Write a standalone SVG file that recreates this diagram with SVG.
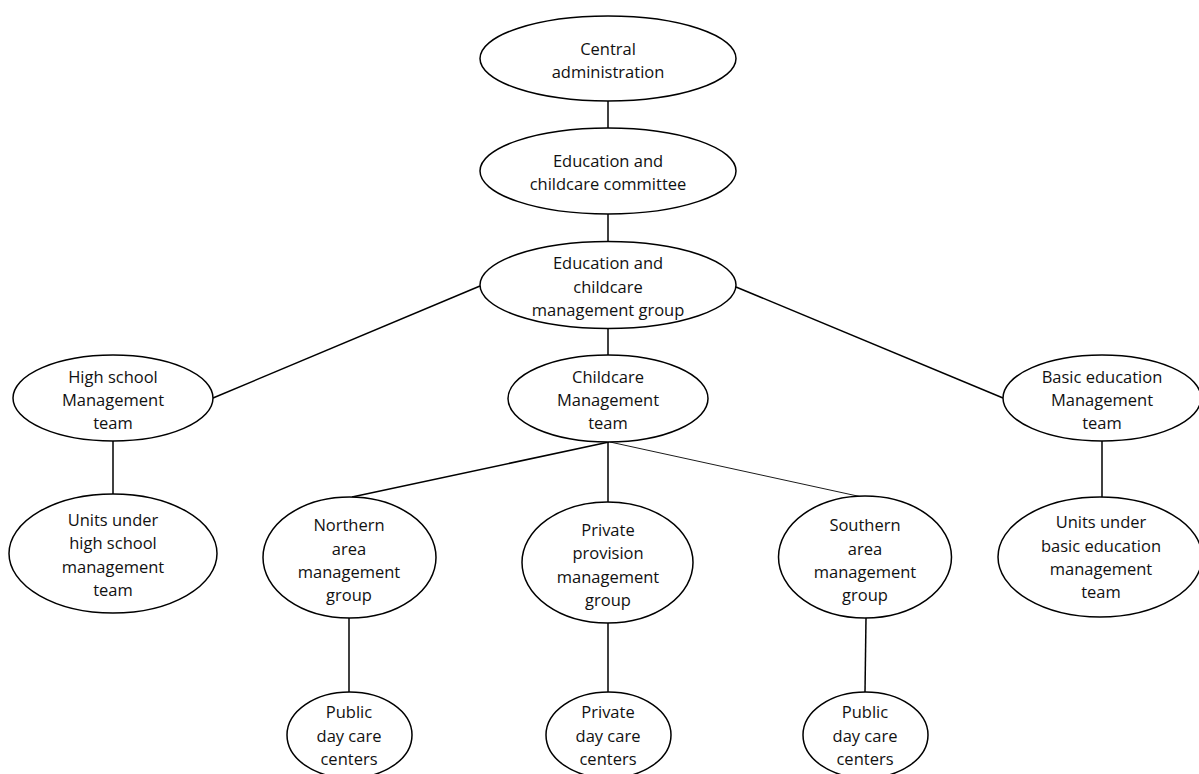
<svg xmlns="http://www.w3.org/2000/svg" width="1199" height="774" viewBox="0 0 1199 774">
<style>
.n{fill:#fff;stroke:#000;stroke-width:1.5}
.t{font-family:"Open Sans","Liberation Sans",sans-serif;font-size:16.5px;fill:#111;text-anchor:middle}
.c{stroke:#000;stroke-width:1.5;fill:none}
.thin{stroke-width:0.9}
</style>
<rect width="1199" height="774" fill="#fff"/>
<g id="connectors">
<line class="c" x1="608" y1="101" x2="608" y2="128"/>
<line class="c" x1="608" y1="214" x2="608" y2="241"/>
<line class="c" x1="480" y1="286" x2="213" y2="398"/>
<line class="c" x1="736" y1="287" x2="1003" y2="398"/>
<line class="c" x1="608" y1="328" x2="608" y2="355"/>
<line class="c" x1="113" y1="441" x2="113" y2="494"/>
<line class="c" x1="1102" y1="441" x2="1102" y2="497"/>
<line class="c" x1="609" y1="442" x2="352" y2="497"/>
<line class="c" x1="608" y1="442" x2="608" y2="502"/>
<line class="c thin" x1="610" y1="442" x2="862" y2="497"/>
<line class="c" x1="349" y1="618" x2="349" y2="692"/>
<line class="c" x1="608" y1="623" x2="608" y2="692"/>
<line class="c" x1="866" y1="618" x2="865" y2="692"/>
</g>
<g id="central">
<ellipse class="n" cx="608" cy="58.5" rx="128" ry="42.5"/>
<text class="t" x="608" y="55">Central</text>
<text class="t" x="608" y="78">administration</text>
</g>
<g id="committee">
<ellipse class="n" cx="608" cy="171" rx="128" ry="43"/>
<text class="t" x="608" y="167">Education and</text>
<text class="t" x="608" y="190">childcare committee</text>
</g>
<g id="mgmt-group">
<ellipse class="n" cx="608" cy="285" rx="128" ry="43.5"/>
<text class="t" x="608" y="269">Education and</text>
<text class="t" x="608" y="292.5">childcare</text>
<text class="t" x="608" y="316">management group</text>
</g>
<g id="highschool">
<ellipse class="n" cx="113" cy="398" rx="100" ry="43"/>
<text class="t" x="113" y="383">High school</text>
<text class="t" x="113" y="406">Management</text>
<text class="t" x="113" y="429">team</text>
</g>
<g id="childcare">
<ellipse class="n" cx="608" cy="398.5" rx="100" ry="43.5"/>
<text class="t" x="608" y="383">Childcare</text>
<text class="t" x="608" y="406">Management</text>
<text class="t" x="608" y="429">team</text>
</g>
<g id="basic">
<ellipse class="n" cx="1102" cy="398" rx="99" ry="43"/>
<text class="t" x="1102" y="383">Basic education</text>
<text class="t" x="1102" y="406">Management</text>
<text class="t" x="1102" y="429">team</text>
</g>
<g id="units-hs">
<ellipse class="n" cx="113" cy="553.5" rx="104" ry="59.5"/>
<text class="t" x="113" y="526">Units under</text>
<text class="t" x="113" y="549">high school</text>
<text class="t" x="113" y="573">management</text>
<text class="t" x="113" y="596">team</text>
</g>
<g id="northern">
<ellipse class="n" cx="349.5" cy="557.5" rx="86.5" ry="60.5"/>
<text class="t" x="349" y="531">Northern</text>
<text class="t" x="349" y="554.5">area</text>
<text class="t" x="349" y="578">management</text>
<text class="t" x="349" y="601">group</text>
</g>
<g id="private">
<ellipse class="n" cx="607.5" cy="562.5" rx="85.5" ry="60.5"/>
<text class="t" x="608" y="536">Private</text>
<text class="t" x="608" y="559">provision</text>
<text class="t" x="608" y="583">management</text>
<text class="t" x="608" y="606">group</text>
</g>
<g id="southern">
<ellipse class="n" cx="865" cy="557" rx="86.5" ry="61"/>
<text class="t" x="865" y="531">Southern</text>
<text class="t" x="865" y="554.5">area</text>
<text class="t" x="865" y="578">management</text>
<text class="t" x="865" y="601">group</text>
</g>
<g id="units-basic">
<ellipse class="n" cx="1100" cy="557" rx="102" ry="60"/>
<text class="t" x="1101" y="528">Units under</text>
<text class="t" x="1101" y="552">basic education</text>
<text class="t" x="1101" y="575">management</text>
<text class="t" x="1101" y="598">team</text>
</g>
<g id="public-north">
<ellipse class="n" cx="349.5" cy="735" rx="62.5" ry="43"/>
<text class="t" x="349" y="718">Public</text>
<text class="t" x="349" y="742">day care</text>
<text class="t" x="349" y="765">centers</text>
</g>
<g id="private-daycare">
<ellipse class="n" cx="608.5" cy="735" rx="62.5" ry="43"/>
<text class="t" x="608" y="718">Private</text>
<text class="t" x="608" y="742">day care</text>
<text class="t" x="608" y="765">centers</text>
</g>
<g id="public-south">
<ellipse class="n" cx="865.5" cy="735" rx="62.5" ry="43"/>
<text class="t" x="865" y="718">Public</text>
<text class="t" x="865" y="742">day care</text>
<text class="t" x="865" y="765">centers</text>
</g>
</svg>
